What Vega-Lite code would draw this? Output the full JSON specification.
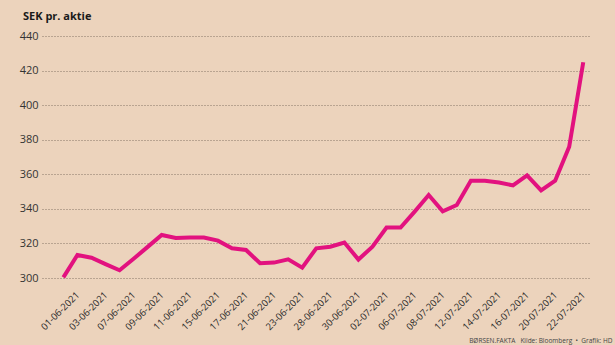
{
  "$schema": "https://vega.github.io/schema/vega-lite/v6.json",
  "width": 548,
  "height": 242,
  "autosize": {"type": "none"},
  "padding": {"left": 42, "top": 36, "right": 25, "bottom": 67},
  "background": "#ecd3bc",
  "config": {"view": {"stroke": null}, "font": "Open Sans"},
  "title": {"text": "SEK pr. aktie", "anchor": "start", "frame": "group", "dx": -19, "offset": 8, "fontSize": 11, "fontWeight": "bold", "font": "Open Sans", "color": "#1a1a1a"},
  "data": {"values": [
    {"dato": "01-06-2021", "kurs": 300.4},
    {"dato": "02-06-2021", "kurs": 313.3},
    {"dato": "03-06-2021", "kurs": 311.7},
    {"dato": "04-06-2021", "kurs": 308.0},
    {"dato": "07-06-2021", "kurs": 304.5},
    {"dato": "08-06-2021", "kurs": 311.1},
    {"dato": "09-06-2021", "kurs": 318.0},
    {"dato": "10-06-2021", "kurs": 324.9},
    {"dato": "11-06-2021", "kurs": 323.2},
    {"dato": "14-06-2021", "kurs": 323.4},
    {"dato": "15-06-2021", "kurs": 323.4},
    {"dato": "16-06-2021", "kurs": 321.6},
    {"dato": "17-06-2021", "kurs": 317.2},
    {"dato": "18-06-2021", "kurs": 316.2},
    {"dato": "21-06-2021", "kurs": 308.5},
    {"dato": "22-06-2021", "kurs": 308.9},
    {"dato": "23-06-2021", "kurs": 310.8},
    {"dato": "24-06-2021", "kurs": 306.0},
    {"dato": "28-06-2021", "kurs": 317.2},
    {"dato": "29-06-2021", "kurs": 318.1},
    {"dato": "30-06-2021", "kurs": 320.5},
    {"dato": "01-07-2021", "kurs": 310.7},
    {"dato": "02-07-2021", "kurs": 318.1},
    {"dato": "05-07-2021", "kurs": 329.2},
    {"dato": "06-07-2021", "kurs": 329.2},
    {"dato": "07-07-2021", "kurs": 338.4},
    {"dato": "08-07-2021", "kurs": 348.0},
    {"dato": "09-07-2021", "kurs": 338.6},
    {"dato": "12-07-2021", "kurs": 342.2},
    {"dato": "13-07-2021", "kurs": 356.2},
    {"dato": "14-07-2021", "kurs": 356.2},
    {"dato": "15-07-2021", "kurs": 355.2},
    {"dato": "16-07-2021", "kurs": 353.6},
    {"dato": "19-07-2021", "kurs": 359.4},
    {"dato": "20-07-2021", "kurs": 350.7},
    {"dato": "21-07-2021", "kurs": 356.3},
    {"dato": "22-07-2021", "kurs": 375.9},
    {"dato": "23-07-2021", "kurs": 424.8}
  ]},
  "mark": {"type": "line", "color": "#e2127f", "strokeWidth": 4},
  "encoding": {
    "x": {
      "field": "dato", "type": "ordinal", "sort": null,
      "scale": {"type": "point", "padding": 1, "align": 0.76},
      "axis": {
        "values": ["01-06-2021", "03-06-2021", "07-06-2021", "09-06-2021", "11-06-2021", "15-06-2021", "17-06-2021", "21-06-2021", "23-06-2021", "28-06-2021", "30-06-2021", "02-07-2021", "06-07-2021", "08-07-2021", "12-07-2021", "14-07-2021", "16-07-2021", "20-07-2021", "22-07-2021"],
        "labelAngle": -45, "labelAlign": "right", "labelBaseline": "middle",
        "labelOffset": 14, "labelPadding": 15,
        "labelFontSize": 9.5, "labelColor": "#2a2a2a", "labelFont": "Open Sans",
        "domain": false, "ticks": false, "grid": false,
        "title": "BØRSEN.FAKTA\u00a0\u00a0\u00a0Kilde: Bloomberg\u00a0\u00a0•\u00a0\u00a0Grafik: HD",
        "titleX": 570, "titleY": 62, "titleAlign": "right", "titleBaseline": "middle", "titleAnchor": null,
        "titleFontSize": 6.5, "titleFontWeight": "normal", "titleColor": "#444444", "titleFont": "Open Sans"
      }
    },
    "y": {
      "field": "kurs", "type": "quantitative",
      "scale": {"domain": [300, 440], "zero": false, "nice": false},
      "axis": {
        "values": [300, 320, 340, 360, 380, 400, 420, 440],
        "title": null, "domain": false, "ticks": false,
        "grid": true, "gridDash": [1, 2], "gridColor": "#7d6c5e", "gridWidth": 1, "gridOpacity": 0.9,
        "labelPadding": 4, "labelFontSize": 11, "labelColor": "#333333", "labelFont": "Open Sans"
      }
    }
  }
}
